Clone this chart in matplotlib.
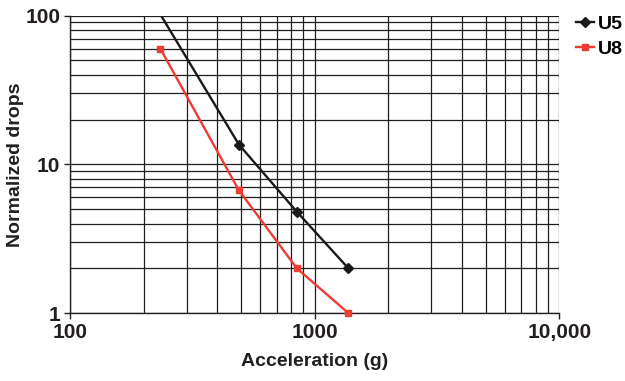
import matplotlib
matplotlib.use('Agg')
import matplotlib.pyplot as plt
from matplotlib.ticker import FixedLocator, FixedFormatter, LogLocator, NullFormatter

plt.rcParams['font.family'] = ['Liberation Sans', 'DejaVu Sans']
plt.rcParams['font.weight'] = 'bold'

# acceleration (g) vs normalized drops
accel = [234, 490, 846, 1374]
u5 = [102, 13.6, 4.8, 2.0]
u8 = [60, 6.7, 2.0, 1.0]

fig = plt.figure(figsize=(6.25, 3.81), dpi=100)
ax = fig.add_axes([0.112, 0.178, 0.783, 0.781])

ax.set_xscale('log')
ax.set_yscale('log')
ax.set_xlim(100, 10000)
ax.set_ylim(1, 100)

ax.plot(accel, u5, color='#1a1a1a', lw=1.7, marker='D', ms=5,
        markevery=[1, 2, 3], label='U5', zorder=3)
ax.plot(accel, u8, color='#ee3b33', lw=1.7, marker='s', ms=5,
        label='U8', zorder=3, clip_on=False)

ax.xaxis.set_major_locator(FixedLocator([100, 1000, 10000]))
ax.xaxis.set_major_formatter(FixedFormatter(['100', '1000', '10,000']))
ax.yaxis.set_major_locator(FixedLocator([1, 10, 100]))
ax.yaxis.set_major_formatter(FixedFormatter(['1', '10', '100']))
ax.xaxis.set_minor_locator(LogLocator(base=10, subs=range(2, 10)))
ax.yaxis.set_minor_locator(LogLocator(base=10, subs=range(2, 10)))
ax.xaxis.set_minor_formatter(NullFormatter())
ax.yaxis.set_minor_formatter(NullFormatter())

ax.grid(True, which='both', color='#1e1e1e', lw=0.9)
ax.tick_params(which='minor', length=0)
ax.tick_params(which='major', length=4, width=1, color='#222222',
               labelsize=15, pad=3, labelcolor='#231f20')
for s in ['top', 'right']:
    ax.spines[s].set_visible(False)
for s in ['left', 'bottom']:
    ax.spines[s].set_color('#222222')
    ax.spines[s].set_linewidth(1)

ax.set_xlabel('Acceleration (g)', fontsize=14, fontweight='bold',
              labelpad=8, color='#231f20')
ax.set_ylabel('Normalized drops', fontsize=14, fontweight='bold',
              labelpad=1, color='#231f20')

ax.legend(loc='upper left', bbox_to_anchor=(1.034, 1.0), frameon=False,
          fontsize=14, handlelength=0.95, handletextpad=0.15, labelspacing=0.38,
          borderaxespad=0, borderpad=0)

fig.savefig('out.png', dpi=100)
